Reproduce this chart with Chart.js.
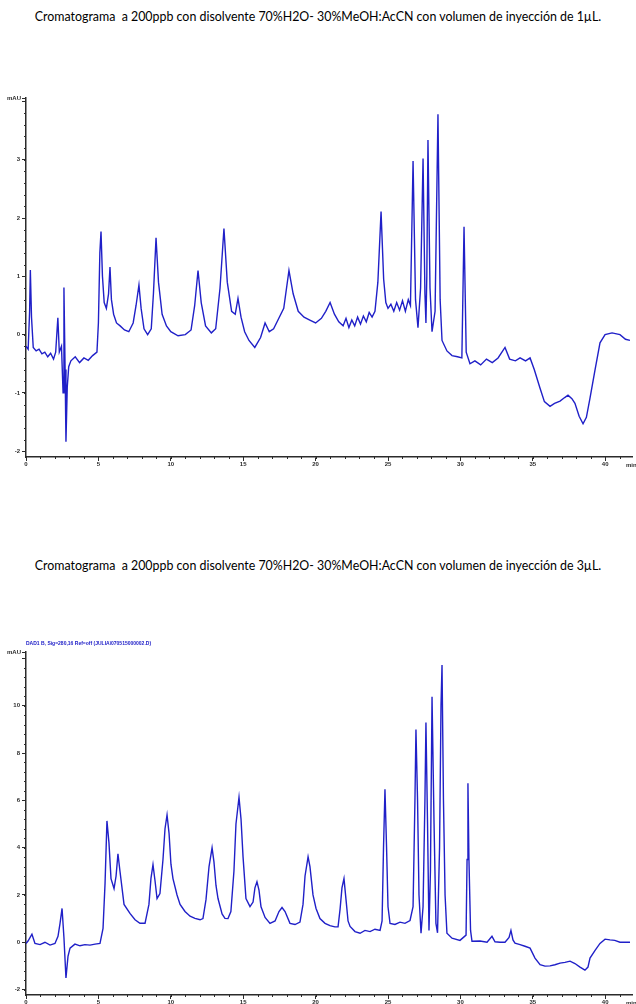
<!DOCTYPE html>
<html>
<head>
<meta charset="utf-8">
<script src="https://cdn.jsdelivr.net/npm/chart.js@4.4.1/dist/chart.umd.min.js"></script>
<style>
  html, body { margin: 0; padding: 0; background: #fff; overflow: hidden; }
  body { width: 636px; height: 1004px; position: relative; }
  .caption {
    position: absolute; left: 0; width: 636px; text-align: center;
    font-family: Lato, "Open Sans", sans-serif; font-size: 12.4px; color: #000;
    white-space: pre;
  }
  .box { position: absolute; left: 0; width: 636px; }
</style>
</head>
<body>
<div class="caption" style="top:9px">Cromatograma  a 200ppb con disolvente 70%H2O- 30%MeOH:AcCN con volumen de inyección de 1µL.</div>
<div class="box" style="top:88px;height:385px"><canvas id="top"></canvas></div>
<div class="caption" style="top:558px">Cromatograma  a 200ppb con disolvente 70%H2O- 30%MeOH:AcCN con volumen de inyección de 3µL.</div>
<div class="box" style="top:636px;height:375px"><canvas id="bottom"></canvas></div>
<script>
// retention time (min) and absorbance (mAU)
const topTime = [
  0.00, 0.15, 0.25, 0.30, 0.38, 0.50, 0.70, 0.90, 1.10, 1.30, 1.50, 1.70, 1.90, 2.05, 2.20, 2.30,
  2.45, 2.56, 2.62, 2.70, 2.76, 2.85, 2.95, 3.10, 3.40, 3.70, 4.00, 4.30, 4.60, 4.90, 5.00, 5.10,
  5.18, 5.28, 5.40, 5.55, 5.70, 5.80, 5.90, 6.05, 6.25, 6.50, 6.80, 7.10, 7.40, 7.60, 7.80, 7.95,
  8.15, 8.40, 8.65, 8.80, 8.98, 9.15, 9.40, 9.70, 10.00, 10.50, 11.00, 11.40, 11.65, 11.88, 12.10, 12.40,
  12.80, 13.10, 13.40, 13.67, 13.90, 14.20, 14.45, 14.64, 14.85, 15.10, 15.40, 15.80, 16.20, 16.51, 16.80, 17.10,
  17.40, 17.80, 18.16, 18.45, 18.80, 19.20, 19.60, 20.00, 20.40, 20.70, 21.00, 21.30, 21.60, 21.90, 22.10, 22.30,
  22.50, 22.70, 22.90, 23.10, 23.30, 23.50, 23.70, 23.90, 24.10, 24.30, 24.52, 24.70, 24.85, 25.00, 25.20, 25.40,
  25.60, 25.80, 26.00, 26.20, 26.40, 26.55, 26.73, 26.90, 27.07, 27.25, 27.42, 27.55, 27.62, 27.68, 27.76, 27.90,
  28.04, 28.25, 28.45, 28.60, 28.73, 29.07, 29.42, 29.80, 30.10, 30.25, 30.40, 30.66, 31.00, 31.40, 31.80, 32.20,
  32.60, 33.08, 33.40, 33.80, 34.12, 34.50, 34.81, 35.10, 35.50, 35.80, 36.19, 36.50, 36.88, 37.20, 37.43, 37.70,
  37.91, 38.20, 38.47, 38.70, 38.95, 39.30, 39.64, 39.99, 40.47, 41.02, 41.40, 41.71
];
const topSignal = [
  -0.20, -0.25, 0.40, 1.11, 0.30, -0.22, -0.28, -0.25, -0.33, -0.30, -0.38, -0.32, -0.42, -0.30, 0.29, -0.30,
  -0.20, -1.00, 0.81, -0.60, -1.84, -0.90, -0.55, -0.45, -0.38, -0.48, -0.40, -0.44, -0.36, -0.30, 0.20, 1.40,
  1.77, 1.00, 0.55, 0.45, 0.70, 1.16, 0.60, 0.35, 0.20, 0.15, 0.08, 0.05, 0.20, 0.50, 0.85, 0.45,
  0.10, 0.00, 0.10, 0.70, 1.66, 0.90, 0.35, 0.15, 0.05, -0.02, 0.00, 0.08, 0.50, 1.10, 0.55, 0.15,
  0.03, 0.10, 0.80, 1.82, 0.90, 0.40, 0.35, 0.62, 0.30, 0.05, -0.10, -0.22, -0.05, 0.20, 0.05, 0.10,
  0.25, 0.45, 1.10, 0.70, 0.40, 0.30, 0.25, 0.20, 0.28, 0.40, 0.55, 0.35, 0.22, 0.15, 0.28, 0.12,
  0.25, 0.15, 0.30, 0.18, 0.32, 0.22, 0.38, 0.30, 0.40, 0.90, 2.11, 0.95, 0.55, 0.45, 0.52, 0.40,
  0.55, 0.42, 0.58, 0.40, 0.60, 0.50, 2.98, 0.60, 0.12, 0.80, 3.02, 0.70, 0.20, 1.00, 3.34, 0.80,
  0.05, 0.40, 3.78, 0.60, -0.10, -0.28, -0.36, -0.38, -0.40, 1.85, -0.30, -0.50, -0.45, -0.52, -0.42, -0.48,
  -0.40, -0.22, -0.42, -0.45, -0.40, -0.45, -0.40, -0.60, -0.92, -1.15, -1.23, -1.18, -1.14, -1.08, -1.04, -1.10,
  -1.18, -1.40, -1.53, -1.42, -1.09, -0.60, -0.14, 0.00, 0.03, 0.00, -0.08, -0.10
];

const bottomTime = [
  0.00, 0.14, 0.41, 0.62, 0.97, 1.31, 1.66, 2.00, 2.21, 2.35, 2.49, 2.62, 2.76, 2.90, 3.04, 3.38,
  3.73, 4.07, 4.42, 4.77, 5.11, 5.32, 5.46, 5.59, 5.73, 5.87, 6.08, 6.22, 6.35, 6.49, 6.77, 7.18,
  7.53, 7.87, 8.22, 8.49, 8.63, 8.77, 8.91, 9.05, 9.25, 9.46, 9.60, 9.74, 9.88, 10.01, 10.15, 10.43,
  10.64, 10.98, 11.33, 11.67, 12.02, 12.22, 12.43, 12.64, 12.85, 12.98, 13.12, 13.26, 13.54, 13.74, 13.95, 14.15,
  14.36, 14.50, 14.71, 14.85, 14.99, 15.19, 15.47, 15.68, 15.81, 15.95, 16.09, 16.23, 16.51, 16.85, 17.20, 17.47,
  17.68, 17.89, 18.23, 18.58, 18.92, 19.13, 19.27, 19.48, 19.61, 19.82, 20.03, 20.30, 20.65, 20.99, 21.33, 21.55,
  21.69, 21.82, 21.96, 22.10, 22.24, 22.38, 22.72, 23.07, 23.41, 23.76, 24.10, 24.45, 24.59, 24.69, 24.79, 24.90,
  25.00, 25.14, 25.48, 25.83, 26.17, 26.52, 26.73, 26.86, 26.93, 27.04, 27.14, 27.28, 27.42, 27.55, 27.62, 27.73,
  27.83, 27.93, 28.04, 28.18, 28.31, 28.42, 28.56, 28.66, 28.73, 28.83, 28.94, 29.07, 29.42, 29.97, 30.39, 30.46,
  30.52, 30.59, 30.70, 30.80, 31.35, 31.84, 32.18, 32.39, 32.73, 33.08, 33.36, 33.49, 33.63, 33.77, 34.12, 34.46,
  34.81, 35.15, 35.50, 35.84, 36.19, 36.53, 36.88, 37.22, 37.57, 37.91, 38.26, 38.60, 38.81, 38.95, 39.30, 39.64,
  39.99, 40.33, 40.66, 41.02, 41.37, 41.71
];
const bottomSignal = [
  -0.05, 0.05, 0.34, -0.05, -0.10, 0.00, -0.12, -0.05, 0.25, 0.80, 1.43, 0.20, -1.51, -0.60, -0.25, -0.08,
  -0.15, -0.10, -0.12, -0.08, -0.05, 0.59, 2.50, 5.13, 4.20, 2.69, 2.27, 2.80, 3.74, 3.00, 1.60, 1.22,
  0.95, 0.80, 0.80, 1.60, 2.70, 3.28, 2.60, 1.85, 2.06, 3.50, 4.80, 5.38, 4.60, 3.30, 2.69, 2.00,
  1.60, 1.30, 1.10, 1.01, 0.95, 1.00, 1.80, 3.20, 3.99, 3.40, 2.40, 1.85, 1.20, 1.01, 1.00, 1.30,
  3.00, 5.00, 6.13, 5.20, 3.60, 1.85, 1.51, 1.70, 2.30, 2.56, 2.20, 1.50, 1.05, 0.80, 0.90, 1.30,
  1.47, 1.30, 0.80, 0.75, 0.85, 1.60, 2.80, 3.61, 3.20, 2.00, 1.43, 1.00, 0.80, 0.70, 0.65, 0.65,
  1.40, 2.30, 2.69, 1.80, 0.90, 0.67, 0.45, 0.38, 0.50, 0.45, 0.55, 0.50, 0.90, 4.00, 6.47, 4.00,
  1.50, 0.80, 0.75, 0.85, 0.80, 0.92, 1.50, 6.00, 8.99, 6.00, 2.00, 0.38, 1.50, 6.00, 9.29, 5.00,
  0.50, 3.00, 10.38, 5.00, 0.80, 0.40, 4.00, 10.00, 11.72, 6.00, 2.00, 0.38, 0.17, 0.08, 0.30, 3.50,
  6.72, 3.50, 0.50, 0.04, 0.05, 0.00, 0.25, 0.02, 0.00, 0.00, 0.20, 0.50, 0.10, -0.04, -0.10, -0.17,
  -0.25, -0.67, -0.95, -1.01, -1.00, -0.95, -0.88, -0.85, -0.80, -0.90, -1.05, -1.18, -1.05, -0.67, -0.34, -0.05,
  0.13, 0.10, 0.08, 0.00, 0.00, 0.00
];

const signalLabel = 'DAD1 B, Sig=280,16 Ref=off (JULIA\\070515000002.D)';

const axisInk = '#2b2b2b';
const traceBlue = '#2020c8';

// draws the small minor ticks, the unit labels and the signal caption
const decorations = {
  id: 'decorations',
  afterDraw(chart, args, opts) {
    const ctx = chart.ctx;
    const {x, y} = chart.scales;
    const area = chart.chartArea;
    ctx.save();
    ctx.strokeStyle = axisInk;
    ctx.lineWidth = 1;
    for (let v = Math.ceil(x.min / opts.xMinor) * opts.xMinor; v <= x.max; v += opts.xMinor) {
      const px = Math.round(x.getPixelForValue(v)) + 0.5;
      ctx.beginPath();
      ctx.moveTo(px, area.bottom);
      ctx.lineTo(px, area.bottom + 2);
      ctx.stroke();
    }
    for (let v = Math.ceil(y.min / opts.yMinor) * opts.yMinor; v <= y.max; v += opts.yMinor) {
      const py = Math.round(y.getPixelForValue(v)) + 0.5;
      ctx.beginPath();
      ctx.moveTo(area.left, py);
      ctx.lineTo(area.left - 2, py);
      ctx.stroke();
    }
    ctx.beginPath();
    ctx.moveTo(area.left, area.top + 0.5);
    ctx.lineTo(area.left - 4, area.top + 0.5);
    ctx.stroke();
    ctx.fillStyle = axisInk;
    ctx.font = 'bold 6px "Liberation Sans"';
    ctx.textAlign = 'right';
    ctx.textBaseline = 'middle';
    ctx.fillText('mAU', area.left - 5, area.top);
    ctx.textAlign = 'left';
    ctx.fillText('min', area.right - 6, area.bottom + 8);
    if (opts.caption) {
      ctx.fillStyle = traceBlue;
      ctx.font = 'bold 5px "Liberation Sans"';
      ctx.textBaseline = 'alphabetic';
      ctx.fillText(opts.caption, area.left, area.top - 7);
    }
    ctx.restore();
  }
};

function makeChart(id, times, signal, yMin, yMax, yStep, yMinor, padTop, caption) {
  const points = times.map((t, i) => ({x: t, y: signal[i]}));
  const tickFont = {family: 'Liberation Sans', size: 6, weight: 'bold'};
  return new Chart(document.getElementById(id), {
    type: 'line',
    data: {
      datasets: [{
        data: points,
        borderColor: traceBlue,
        borderWidth: 1.4,
        pointRadius: 0,
        tension: 0
      }]
    },
    options: {
      responsive: true,
      maintainAspectRatio: false,
      animation: false,
      layout: {padding: {top: padTop, right: 4, bottom: 0, left: 0}},
      plugins: {
        legend: {display: false},
        tooltip: {enabled: false},
        decorations: {xMinor: 1, yMinor: yMinor, caption: caption}
      },
      scales: {
        x: {
          type: 'linear',
          min: 0,
          max: 41.85,
          afterFit: (s) => { s.height = 16 },
          border: {color: axisInk, width: 1.5},
          grid: {drawOnChartArea: false, tickLength: 4, tickColor: axisInk},
          ticks: {stepSize: 5, includeBounds: false, maxRotation: 0, autoSkip: false,
                  color: axisInk, font: tickFont, padding: 0}
        },
        y: {
          min: yMin,
          max: yMax,
          afterFit: (s) => { s.width = 26 },
          border: {color: axisInk, width: 1.5},
          grid: {drawOnChartArea: false, tickLength: 4, tickColor: axisInk},
          ticks: {stepSize: yStep, includeBounds: false, autoSkip: false,
                  color: axisInk, font: tickFont, padding: 2,
                  // the top tick carries the "mAU" unit instead of a number
                  callback: (v) => (v > yMax - yStep * 0.5 ? '' : v)}
        }
      }
    },
    plugins: [decorations]
  });
}

makeChart('top', topTime, topSignal, -2.1, 4.06, 1, 0.2, 10, null);
makeChart('bottom', bottomTime, bottomSignal, -2.23, 12.27, 2, 0.4, 16, signalLabel);
</script>
</body>
</html>
